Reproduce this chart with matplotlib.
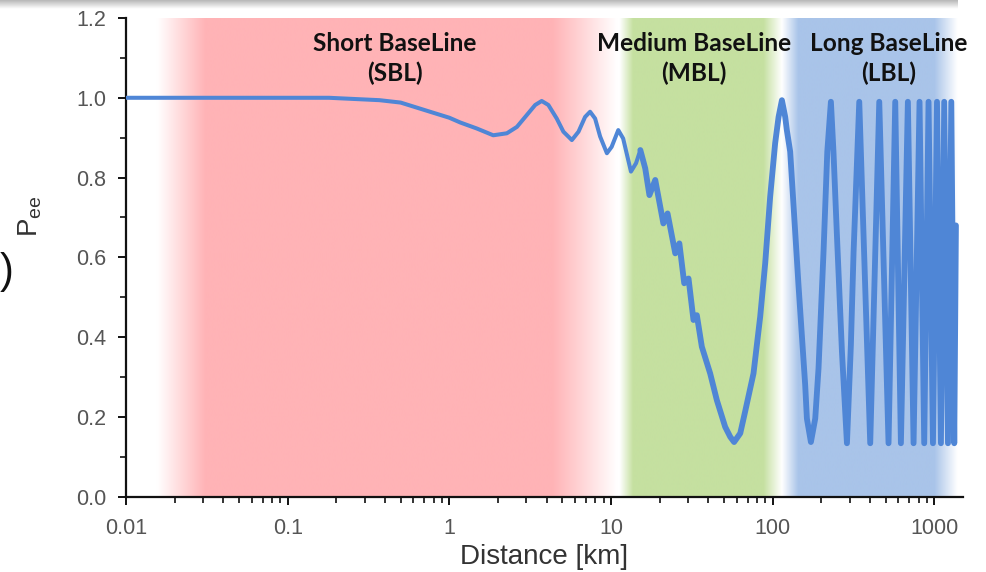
import numpy as np
import matplotlib
matplotlib.use("Agg")
import matplotlib.pyplot as plt
from matplotlib.colors import to_rgb

plt.rcParams['font.family'] = ['Liberation Sans', 'DejaVu Sans']
plt.rcParams['mathtext.fontset'] = 'custom'
plt.rcParams['mathtext.rm'] = 'Liberation Sans'

# electron antineutrino survival probability vs baseline
distance_km = [0.01, 0.05, 0.1, 0.18, 0.37, 0.5, 0.76, 1.0, 1.17, 1.48, 1.87,
               2.27, 2.62, 3.02, 3.40, 3.73, 4.10, 4.62, 5.08, 5.73, 6.30,
               6.92, 7.43, 7.98, 8.57, 9.44, 10.1, 11.1, 11.9, 13.3, 14.3,
               15.2, 16.3, 17.3, 18.8, 21.1, 22.4, 25.0, 26.5, 28.4, 30.2,
               32.4, 34.0, 36.5, 41.1, 45.2, 50.9, 54.7, 57.8, 63.1, 67.6,
               76.2, 83.8, 90.0, 96.6, 103.7, 108.9, 114.2, 119.7, 122.5,
               128.5, 144.6, 159.1, 163.0, 172.6, 183.6, 192.4, 206.6, 218,
               229.5, 238, 250, 268.6, 288.4, 305, 317, 343.7, 401.8, 457,
               521.5, 573.8, 622, 687, 745, 811, 867, 922, 982, 1040, 1100,
               1153, 1216, 1275, 1330, 1362]
p_ee = [1.0, 1.0, 1.0, 1.0, 0.994, 0.988, 0.965, 0.95, 0.938, 0.923, 0.906,
        0.911, 0.927, 0.957, 0.982, 0.992, 0.982, 0.948, 0.915, 0.894, 0.915,
        0.952, 0.965, 0.948, 0.903, 0.861, 0.877, 0.919, 0.898, 0.815, 0.836,
        0.869, 0.823, 0.756, 0.794, 0.685, 0.710, 0.610, 0.635, 0.535, 0.547,
        0.443, 0.455, 0.376, 0.309, 0.242, 0.175, 0.150, 0.137, 0.159, 0.213,
        0.309, 0.451, 0.585, 0.752, 0.886, 0.952, 0.994, 0.952, 0.919,
        0.865, 0.531, 0.280, 0.196, 0.137, 0.196, 0.322, 0.614, 0.865,
        0.99, 0.865, 0.656, 0.363, 0.134, 0.380, 0.614, 0.99, 0.134, 0.99,
        0.134, 0.99, 0.134, 0.99, 0.134, 0.99, 0.134, 0.99, 0.134, 0.99, 0.134,
        0.99, 0.134, 0.99, 0.134, 0.68]

# baseline regions: fade-in start, solid start, solid end, fade-out end (km)
region_names = ["Short BaseLine\n(SBL)", "Medium BaseLine\n(MBL)", "Long BaseLine\n(LBL)"]
region_edges = [(0.0156, 0.031, 4.35, 10.9),
                (11.3, 13.7, 87.5, 114.0),
                (114.0, 144.0, 1000.0, 1388.0)]
region_label_x = [0.46, 32.7, 519.0]
region_colors = ["#FFB3B6", "#C5E0A0", "#A9C4E9"]

x_ticks = [0.01, 0.1, 1, 10, 100, 1000]
x_tick_labels = ["0.01", "0.1", "1", "10", "100", "1000"]
y_ticks = [0.0, 0.2, 0.4, 0.6, 0.8, 1.0, 1.2]

xmin, xmax = 0.01, 1500

fig = plt.figure(figsize=(9.86, 5.72), dpi=100)
ax = fig.add_axes([126/986, 75.3/572, 836.7/986, 478.7/572])
ax.set_xscale('log')
ax.set_xlim(xmin, xmax)
ax.set_ylim(0, 1.2)

# shaded regions with soft edges, built in axes fraction so the log axis doesn't warp them
ncol = 3000
frac = np.linspace(0, 1, ncol)
lmin, lmax = np.log10(xmin), np.log10(xmax)
img = np.ones((1, ncol, 3))
for edges, col in zip(region_edges, region_colors):
    f = [(np.log10(e) - lmin) / (lmax - lmin) for e in edges]
    a = np.interp(frac, f, [0, 1, 1, 0], left=0, right=0)
    rgb = np.array(to_rgb(col))
    img = img * (1 - a[None, :, None]) + rgb[None, None, :] * a[None, :, None]
ax.imshow(img, extent=[0, 1, 0, 1], transform=ax.transAxes, aspect='auto',
          zorder=0, interpolation='bilinear')

line_col = "#4F86D6"
d = np.array(distance_km)
p = np.array(p_ee)
k = np.searchsorted(d, 15.2)
ax.plot(d[:k + 1], p[:k + 1], color=line_col, lw=2.9, zorder=3,
        solid_joinstyle='round', solid_capstyle='round')
ax.plot(d[k:], p[k:], color=line_col, lw=4.2, zorder=3,
        solid_joinstyle='round', solid_capstyle='round')

for name, xpos in zip(region_names, region_label_x):
    ax.text(xpos, 1.098, name, ha='center', va='center', fontsize=17.6,
            fontweight='bold', family=['Lato', 'DejaVu Sans'], color='#111111',
            linespacing=1.3, zorder=4)

ax.spines['top'].set_visible(False)
ax.spines['right'].set_visible(False)
for s in ('left', 'bottom'):
    ax.spines[s].set_linewidth(1.6)
    ax.spines[s].set_color('#111111')

ax.set_xticks(x_ticks)
ax.set_xticklabels(x_tick_labels)
ax.set_yticks(y_ticks)
ax.set_yticklabels([f"{v:.1f}" for v in y_ticks])
ax.set_yticks(np.arange(0.1, 1.2, 0.2), minor=True)
ax.tick_params(axis='both', which='major', direction='out', length=6, width=1.4,
               color='#111111', labelsize=15.5, labelcolor='#555555')
ax.tick_params(axis='both', which='minor', direction='out', length=4, width=1.2,
               color='#111111')
ax.tick_params(axis='x', which='major', pad=9)
ax.tick_params(axis='y', which='major', pad=8)

ax.set_xlabel("Distance [km]", fontsize=20, color='#333333')
ax.xaxis.set_label_coords(0.5, -0.125)
ax.xaxis.label.set_va('center')
ax.set_ylabel(r"$\mathregular{P_{ee}}$", fontsize=20, color='#333333')
ax.yaxis.set_label_coords(-0.1147, 0.586)
ax.yaxis.label.set_va('center')

# slide frame remnants
bar = fig.add_axes([0, 1 - 9/572, 958/986, 9/572])
grad = np.linspace(0.72, 1.0, 20)[:, None] * np.ones((1, 10))
bar.imshow(grad, cmap='gray', vmin=0, vmax=1, aspect='auto', interpolation='bilinear')
bar.axis('off')
fig.text(0.0, 1 - 272/572, ")", fontsize=30, color='#111111', ha='left', va='center')

fig.savefig("out.png", dpi=100)
